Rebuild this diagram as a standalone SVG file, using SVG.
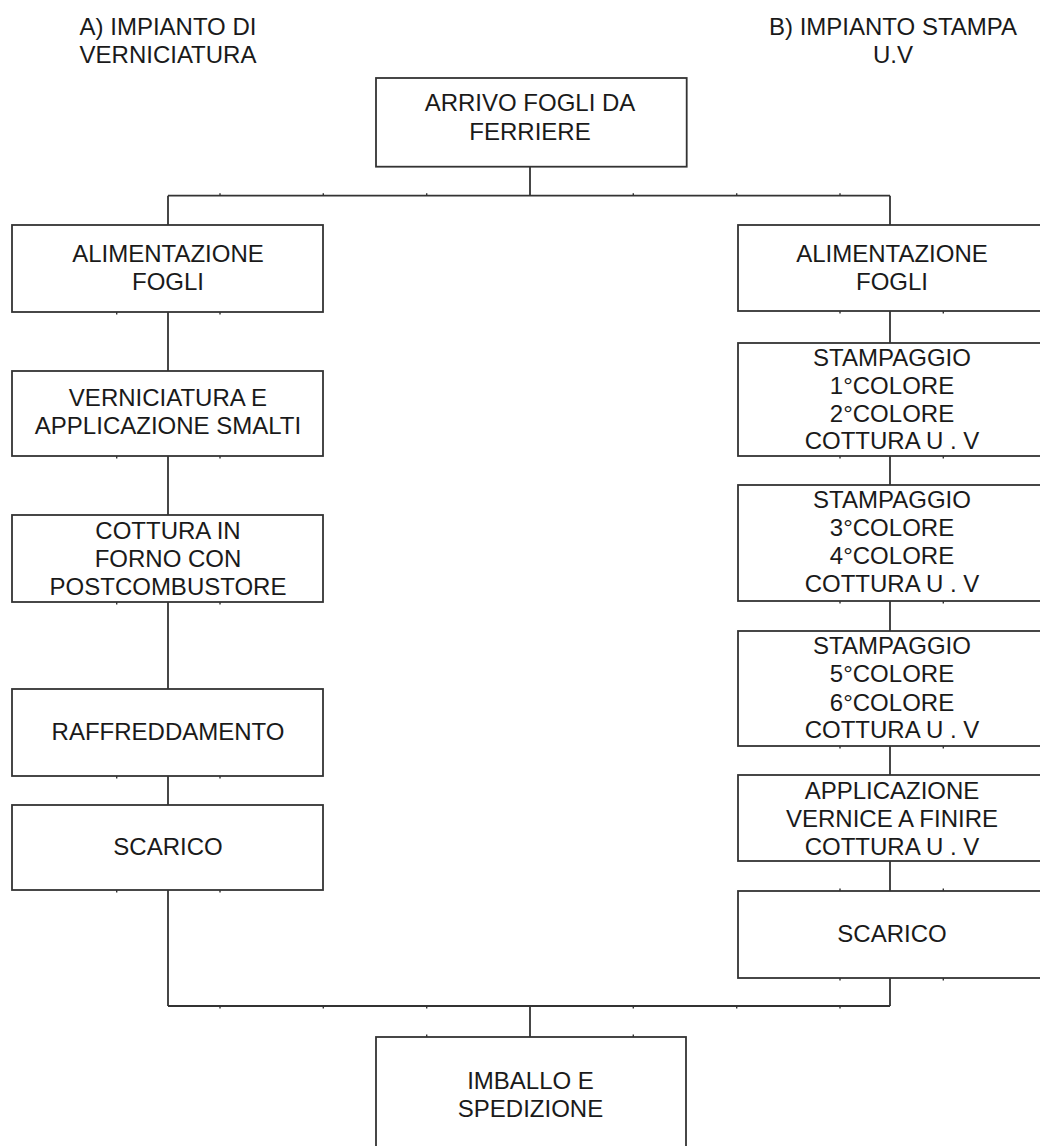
<svg xmlns="http://www.w3.org/2000/svg" width="1040" height="1146" viewBox="0 0 1040 1146">
<style>
  .box { fill: #ffffff; stroke: #333333; stroke-width: 1.8; }
  .conn { fill: none; stroke: #333333; stroke-width: 1.8; }
  .tick { fill: none; stroke: #333333; stroke-width: 1.4; }
  text { font-family: "Liberation Sans", Arial, sans-serif; font-size: 24px; fill: #1a1a1a; text-anchor: middle; }
</style>
<rect width="1040" height="1146" fill="#ffffff"/>

<g id="headers">
  <text x="168" y="35">A) IMPIANTO DI</text>
  <text x="168" y="63">VERNICIATURA</text>
  <text x="893" y="35">B) IMPIANTO STAMPA</text>
  <text x="893" y="63">U.V</text>
</g>

<g id="connectors">
  <path class="conn" d="M530 166.7 V195.7 M168 195.7 H890 M168 195.7 V225 M890 195.7 V225"/>
  <path class="conn" d="M168 312 V371 M168 456 V515 M168 602 V689 M168 776 V805 M168 890 V1006"/>
  <path class="conn" d="M890 311 V343 M890 456 V485 M890 601 V631 M890 746 V775 M890 861 V891 M890 978 V1006"/>
  <path class="conn" d="M168 1006 H890 M530 1006 V1037"/>
</g>

<g id="ticks">
  <path class="tick" d="M220 195.7 v-2.5 M323.3 195.7 v-2.5 M426.7 195.7 v-2.5 M633.3 195.7 v-2.5 M736.7 195.7 v-2.5 M840 195.7 v-2.5"/>
  <path class="tick" d="M220 1006 v2.5 M323.3 1006 v2.5 M426.7 1006 v2.5 M633.3 1006 v2.5 M736.7 1006 v2.5 M840 1006 v2.5"/>
  <path class="tick" d="M426.7 1037 v-2.5 M633.3 1037 v-2.5"/>
  <path class="tick" d="M116.7 225 v2.5 M220 225 v2.5 M116.7 312 v2.5 M220 312 v2.5
    M116.7 371 v2.5 M220 371 v2.5 M116.7 456 v2.5 M220 456 v2.5
    M116.7 515 v2.5 M220 515 v2.5 M116.7 602 v2.5 M220 602 v2.5
    M116.7 689 v2.5 M220 689 v2.5 M116.7 776 v2.5 M220 776 v2.5
    M116.7 890 v2.5 M220 890 v2.5"/>
  <path class="tick" d="M840 225 v2.5 M943.3 225 v2.5 M840 311 v2.5 M943.3 311 v2.5
    M840 343 v2.5 M943.3 343 v2.5 M840 456 v2.5 M943.3 456 v2.5
    M840 485 v2.5 M943.3 485 v2.5 M840 601 v2.5 M943.3 601 v2.5
    M840 746 v2.5 M943.3 746 v2.5 M840 891 v-2.5 M943.3 891 v-2.5
    M840 978 v2.5 M943.3 978 v2.5"/>
</g>

<g id="n-arrivo">
  <rect class="box" x="376" y="78" width="310.7" height="88.7"/>
  <text x="530" y="111">ARRIVO FOGLI DA</text>
  <text x="530" y="140">FERRIERE</text>
</g>

<g id="n-a-alimentazione">
  <rect class="box" x="12" y="225" width="311" height="87"/>
  <text x="168" y="261.7">ALIMENTAZIONE</text>
  <text x="168" y="290">FOGLI</text>
</g>
<g id="n-a-verniciatura">
  <rect class="box" x="12" y="371" width="311" height="85"/>
  <text x="168" y="406">VERNICIATURA E</text>
  <text x="168" y="433.5">APPLICAZIONE SMALTI</text>
</g>
<g id="n-a-cottura">
  <rect class="box" x="12" y="515" width="311" height="87"/>
  <text x="168" y="538.5">COTTURA IN</text>
  <text x="168" y="566.5">FORNO CON</text>
  <text x="168" y="594.5">POSTCOMBUSTORE</text>
</g>
<g id="n-a-raffreddamento">
  <rect class="box" x="12" y="689" width="311" height="87"/>
  <text x="168" y="740">RAFFREDDAMENTO</text>
</g>
<g id="n-a-scarico">
  <rect class="box" x="12" y="805" width="311" height="85"/>
  <text x="168" y="855">SCARICO</text>
</g>

<g id="n-b-alimentazione">
  <rect class="box" x="738" y="225" width="311" height="86"/>
  <text x="892" y="261.7">ALIMENTAZIONE</text>
  <text x="892" y="290">FOGLI</text>
</g>
<g id="n-b-stampaggio12">
  <rect class="box" x="738" y="343" width="311" height="113"/>
  <text x="892" y="365.7">STAMPAGGIO</text>
  <text x="892" y="393.5">1°COLORE</text>
  <text x="892" y="421.5">2°COLORE</text>
  <text x="892" y="449.3">COTTURA U . V</text>
</g>
<g id="n-b-stampaggio34">
  <rect class="box" x="738" y="485" width="311" height="116"/>
  <text x="892" y="507.7">STAMPAGGIO</text>
  <text x="892" y="536">3°COLORE</text>
  <text x="892" y="564.3">4°COLORE</text>
  <text x="892" y="592.3">COTTURA U . V</text>
</g>
<g id="n-b-stampaggio56">
  <rect class="box" x="738" y="631" width="311" height="115"/>
  <text x="892" y="654.3">STAMPAGGIO</text>
  <text x="892" y="682.3">5°COLORE</text>
  <text x="892" y="710.7">6°COLORE</text>
  <text x="892" y="737.7">COTTURA U . V</text>
</g>
<g id="n-b-vernice">
  <rect class="box" x="738" y="775" width="311" height="86"/>
  <text x="892" y="799">APPLICAZIONE</text>
  <text x="892" y="826.7">VERNICE A FINIRE</text>
  <text x="892" y="855">COTTURA U . V</text>
</g>
<g id="n-b-scarico">
  <rect class="box" x="738" y="891" width="311" height="87"/>
  <text x="892" y="941.7">SCARICO</text>
</g>

<g id="n-imballo">
  <rect class="box" x="376" y="1037" width="310" height="130"/>
  <text x="530.5" y="1089">IMBALLO E</text>
  <text x="530.5" y="1116.7">SPEDIZIONE</text>
</g>
</svg>
